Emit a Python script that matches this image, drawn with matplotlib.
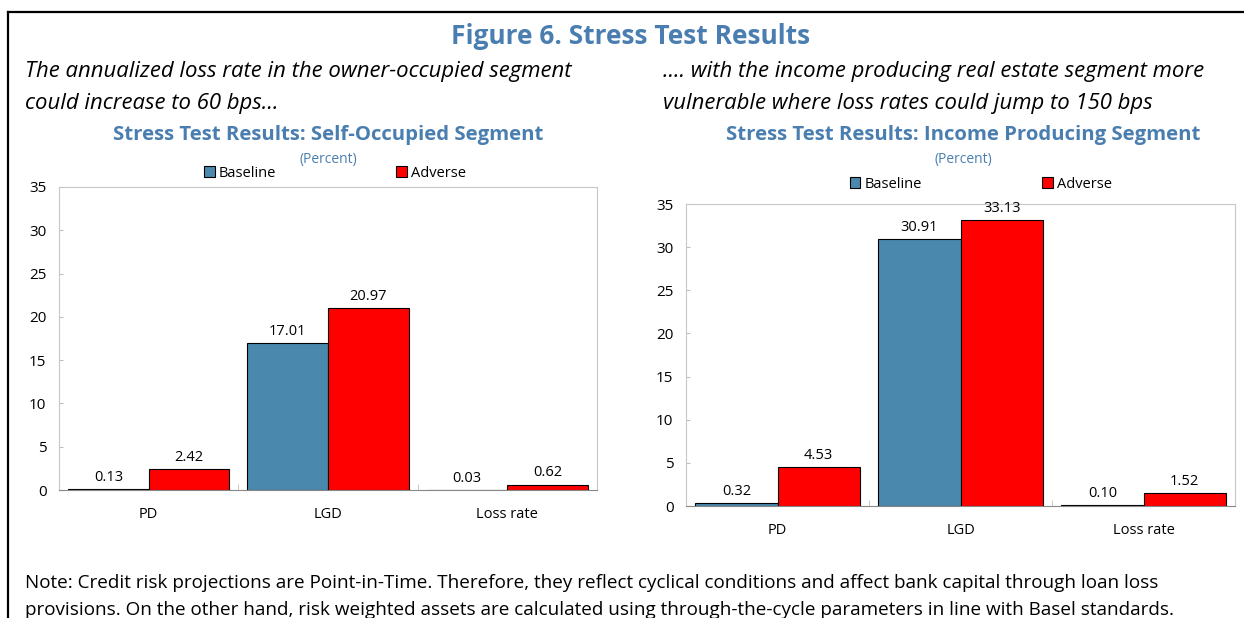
import matplotlib.pyplot as plt
from matplotlib.lines import Line2D

plt.rcParams['font.family'] = ['Open Sans', 'DejaVu Sans']

categories = ['PD', 'LGD', 'Loss rate']
self_baseline = [0.13, 17.01, 0.03]
self_adverse = [2.42, 20.97, 0.62]
income_baseline = [0.32, 30.91, 0.10]
income_adverse = [4.53, 33.13, 1.52]

blue = '#4A89AD'
red = '#FF0000'
title_blue = '#4A7EB0'
W, H = 1244, 618


def px_axes(fig, x0, x1, y0, y1):
    # axes box from pixel coords (top-left origin)
    return fig.add_axes([x0 / W, 1 - y1 / H, (x1 - x0) / W, (y1 - y0) / H])


def draw_panel(ax, baseline, adverse, legend_x, legend_y):
    x = list(range(len(categories)))
    w = 0.45
    b1 = ax.bar([i - w / 2 for i in x], baseline, w, color=blue, edgecolor='black', linewidth=0.8, label='Baseline')
    b2 = ax.bar([i + w / 2 for i in x], adverse, w, color=red, edgecolor='black', linewidth=0.8, label='Adverse')
    ax.bar_label(b1, fmt='%.2f', padding=3, fontsize=10.5)
    ax.bar_label(b2, fmt='%.2f', padding=3, fontsize=10.5)
    ax.set_xlim(-0.5, 2.5)
    ax.set_ylim(0, 35)
    ax.set_yticks(range(0, 36, 5))
    ax.set_xticks(x)
    ax.set_xticklabels(categories, fontsize=10.5)
    ax.set_xticks([0.5, 1.5], minor=True)
    ax.tick_params(axis='x', which='major', length=0, pad=12)
    ax.tick_params(axis='x', which='minor', direction='in', length=4, color='#BFBFBF')
    ax.tick_params(axis='y', direction='in', length=3, color='#BFBFBF', labelsize=11, pad=9)
    for s in ['left', 'top', 'right']:
        ax.spines[s].set_color('#C8C8C8')
    ax.spines['bottom'].set_color('#888888')
    ax.legend(ncol=2, loc='center', bbox_to_anchor=(legend_x, legend_y), frameon=False,
              handlelength=0.75, handleheight=0.75, handletextpad=0.3, columnspacing=8.2,
              fontsize=10.5, borderaxespad=0, borderpad=0)


fig = plt.figure(figsize=(12.44, 6.18), dpi=100)

# frame lines (top and left)
fig.add_artist(Line2D([8 / W, 1], [1 - 12 / H, 1 - 12 / H], color='black', linewidth=1.6))
fig.add_artist(Line2D([8 / W, 8 / W], [0, 1 - 12 / H], color='black', linewidth=1.6))

fig.text(631 / W, 1 - 36 / H, 'Figure 6. Stress Test Results', ha='center', va='center',
         fontsize=19, fontweight='bold', color=title_blue)

fig.text(25 / W, 1 - 72 / H, 'The annualized loss rate in the owner-occupied segment', ha='left', va='center',
         fontsize=15.9, style='italic')
fig.text(25 / W, 1 - 103 / H, 'could increase to 60 bps…', ha='left', va='center',
         fontsize=15.9, style='italic')
fig.text(663 / W, 1 - 72 / H, '.... with the income producing real estate segment more', ha='left', va='center',
         fontsize=15.9, style='italic')
fig.text(663 / W, 1 - 103 / H, 'vulnerable where loss rates could jump to 150 bps', ha='left', va='center',
         fontsize=15.9, style='italic')

fig.text(328 / W, 1 - 135 / H, 'Stress Test Results: Self-Occupied Segment', ha='center', va='center',
         fontsize=14.7, fontweight='bold', color=title_blue)
fig.text(328 / W, 1 - 159 / H, '(Percent)', ha='center', va='center', fontsize=10, color=title_blue)
fig.text(963 / W, 1 - 135 / H, 'Stress Test Results: Income Producing Segment', ha='center', va='center',
         fontsize=14.7, fontweight='bold', color=title_blue)
fig.text(963 / W, 1 - 160 / H, '(Percent)', ha='center', va='center', fontsize=10, color=title_blue)

ax1 = px_axes(fig, 59, 597, 187, 490)
draw_panel(ax1, self_baseline, self_adverse, 0.513, 1 + 14 / 303)

ax2 = px_axes(fig, 686, 1235, 204, 506)
draw_panel(ax2, income_baseline, income_adverse, 0.537, 1 + 20 / 302)

fig.text(25 / W, 1 - 583 / H,
         'Note: Credit risk projections are Point-in-Time. Therefore, they reflect cyclical conditions and affect bank capital through loan loss',
         ha='left', va='center', fontsize=13.55)
fig.text(25 / W, 1 - 610 / H,
         'provisions. On the other hand, risk weighted assets are calculated using through-the-cycle parameters in line with Basel standards.',
         ha='left', va='center', fontsize=13.55)

fig.savefig('out.png', dpi=100)
